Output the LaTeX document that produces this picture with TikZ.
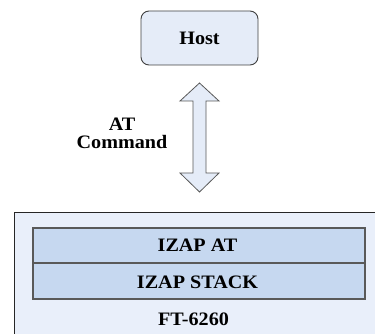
\documentclass[tikz,border=0pt]{standalone}
\usepackage{fontspec}
\setmainfont{Liberation Serif}[FakeStretch=1.06]
\begin{document}
\begin{tikzpicture}[x=1pt,y=-1pt,
  lbl/.style={font=\bfseries\fontsize{19}{19}\selectfont, text=black, inner sep=0pt, align=center},
  hostbox/.style={draw=black!75, line width=0.9pt, fill=hostfill, rounded corners=8pt},
  layerbox/.style={draw=black!65, line width=1.6pt, fill=layerfill},
  outerbox/.style={draw=black!85, line width=0.9pt, fill=outerfill},
  arrowshape/.style={draw=black!65, line width=0.8pt, fill=hostfill}]
\definecolor{hostfill}{RGB}{229,236,248}
\definecolor{outerfill}{RGB}{233,239,250}
\definecolor{layerfill}{RGB}{198,216,240}
\useasboundingbox (0,0) rectangle (375,334);
\clip (0,0) rectangle (375,334);
% Host
\draw[hostbox] (141,11) rectangle (258,65);
\node[lbl] (host) at (199.5,38) {Host};
% outer box
\draw[outerbox] (14,212) rectangle (390,350);
% layers
\draw[layerbox] (33,228) rectangle (365,263);
\draw[layerbox] (33,263) rectangle (365,299);
\node[lbl] (izapat) at (197.5,245) {IZAP AT};
\node[lbl] (izapstack) at (197.5,282) {IZAP STACK};
\node[lbl] (ft) at (193.5,319) {FT-6260};
% double arrow
\draw[arrowshape] (199.5,83) -- (219,101) -- (206,101) -- (206,173) -- (219,173)
  -- (199.5,192) -- (180,173) -- (193,173) -- (193,101) -- (180,101) -- cycle;
\node[lbl] (at) at (122,124.5) {AT};
\node[lbl] (cmd) at (122,142.5) {Command};
\end{tikzpicture}
\end{document}
